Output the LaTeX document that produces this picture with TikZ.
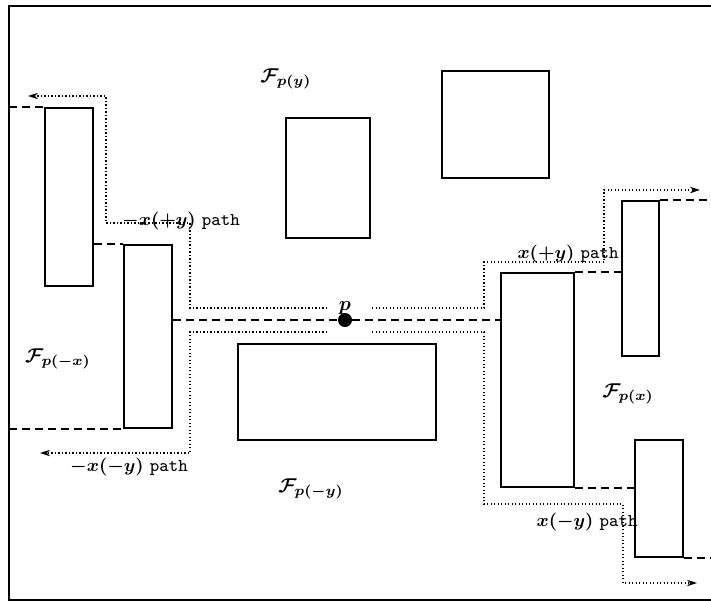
\documentclass[tikz,border=0pt]{standalone}
\usetikzlibrary{positioning, fit, arrows.meta}

\begin{document}
\begin{tikzpicture}[
      x=0.5pt, y=-0.5pt, font=\small,
      blk/.style={draw, line width=0.9pt, inner sep=0pt},
      beam/.style={line width=0.8pt, dash pattern=on 4pt off 2.5pt},
      trace/.style={line width=0.65pt, dash pattern=on 0.65pt off 1.1pt,
                    -{Stealth[length=5pt, width=3.2pt]}},
      lab/.style={inner sep=1pt, font=\small\boldmath},
      fam/.style={inner sep=1pt, font=\normalsize\boldmath}]
    \useasboundingbox (0,0) rectangle (711,601);
    % frame (open on the right)
    \coordinate (tl) at (9,6);
    \coordinate (bl) at (9,600);
    \coordinate (tr) at (711,6);
    \coordinate (br) at (711,600);
    \draw[line width=0.9pt] (tr) -- (tl) -- (bl) -- (br);
    % obstacles
    \node[blk, fit={(45,108) (93,286)}]   (r1) {};
    \node[blk, fit={(124,245) (172,428)}] (r2) {};
    \node[blk, fit={(286,118) (370,238)}] (r3) {};
    \node[blk, fit={(442,71) (549,178)}]  (r4) {};
    \node[blk, fit={(238,344) (436,440)}] (r5) {};
    \node[blk, fit={(501,273) (574,487)}] (r6) {};
    \node[blk, fit={(622,201) (659,356)}] (r7) {};
    \node[blk, fit={(635,440) (683,557)}] (r8) {};
    % the point p
    \node[circle, fill=black, inner sep=0pt, minimum size=7pt] (p) at (345,320) {};
    \node[fam, above=-2pt of p] (plab) {$p$};
    % dashed beams
    \draw[beam] (r2.east |- p) -- (p) -- (r6.west |- p);
    \draw[beam] (r1.east |- r2.north) -- (r2.north west);
    \draw[beam] (tl |- r1.north) -- (r1.north west);
    \draw[beam] (bl |- r2.south) -- (r2.south west);
    \draw[beam] (r6.north east) -- (r7.west |- r6.north);
    \draw[beam] (r7.north east) -- (tr |- r7.north);
    \draw[beam] (r6.south east) -- (r8.west |- r6.south);
    \draw[beam] (r8.south east) -- (br |- r8.south);
    % dotted paths
    \coordinate (ulS) at (327,308);
    \coordinate (ulE) at (28,96);
    \coordinate (llS) at (327,332);
    \coordinate (llE) at (40,453);
    \coordinate (urS) at (372,308);
    \coordinate (urE) at (700,190);
    \coordinate (lrS) at (372,332);
    \coordinate (lrE) at (697,583);
    \draw[trace] (ulS) -- (190,308) -- (190,223) -- (106,223) -- (106,96) -- (ulE);
    \draw[trace] (llS) -- (190,332) -- (190,453) -- (llE);
    \draw[trace] (urS) -- (484,308) -- (484,262) -- (604,262) -- (604,190) -- (urE);
    \draw[trace] (lrS) -- (484,332) -- (484,504) -- (623,504) -- (623,583) -- (lrE);
    % path labels
    \node[lab] (lul) at (181,221) {$-x(+y)$ \texttt{path}};
    \node[lab] (lll) at (129,467) {$-x(-y)$ \texttt{path}};
    \node[lab] (lur) at (568,254) {$x(+y)$ \texttt{path}};
    \node[lab] (llr) at (587,522) {$x(-y)$ \texttt{path}};
    % regions
    \node[fam] (fy)  at (286,79)  {$\mathcal{F}_{p(y)}$};
    \node[fam] (fmx) at (58,359)  {$\mathcal{F}_{p(-x)}$};
    \node[fam] (fx)  at (628,394) {$\mathcal{F}_{p(x)}$};
    \node[fam] (fmy) at (311,489) {$\mathcal{F}_{p(-y)}$};
  \end{tikzpicture}
\end{document}
